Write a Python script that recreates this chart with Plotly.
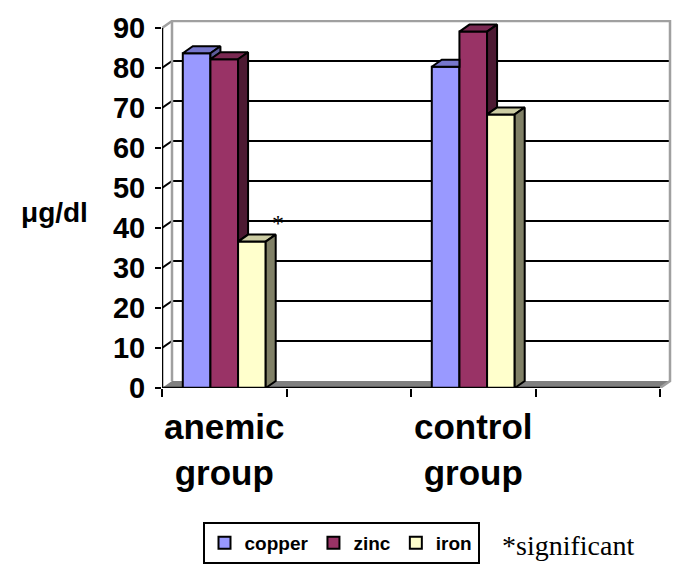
import plotly.graph_objects as go

# data (ug/dl)
groups = ["anemic<br>group", "control<br>group"]
group_slots = [0, 2]               # the axis has 4 slots, two stay empty
slot_edges = [-0.5, 0.5, 1.5, 2.5, 3.5]
metals = ["copper", "zinc", "iron"]
copper = [83.7, 80.3]
zinc = [82.2, 89.1]
iron = [36.6, 68.4]
y_ticks = [0, 10, 20, 30, 40, 50, 60, 70, 80, 90]
star_bar = ("iron", 0)             # anemic iron marked as significant
note = "*significant"

values = {"copper": copper, "zinc": zinc, "iron": iron}
front_col = {"copper": "#9999FF", "zinc": "#993366", "iron": "#FFFFCC"}
top_col = {"copper": "#7777CC", "zinc": "#7A2952", "iron": "#CCCCA3"}
side_col = {"copper": "#5C5C99", "zinc": "#4D1A33", "iron": "#808066"}

# page geometry (pixels) used to fake the excel 3d look
W, H = 685, 579
LEFT, FRONT_RIGHT, BOX_RIGHT = 162, 660, 672
BOTTOM, TOP_90, BOX_TOP = 388, 28, 20
xpu = (FRONT_RIGHT - LEFT) / 4.0
ypu = (BOTTOM - TOP_90) / 90.0
dxu = 10 / xpu      # depth offset, right
dyu = 7 / ypu       # depth offset, up

bar_w = 0.222
offsets = [-1.5 * bar_w, -0.5 * bar_w, 0.5 * bar_w]
FONT = "Liberation Sans, Arial, sans-serif"
SERIF = "Liberation Serif, Times New Roman, serif"

fig = go.Figure()

# front faces
for i, m in enumerate(metals):
    fig.add_trace(go.Bar(
        x=group_slots, y=values[m], name=m, width=bar_w, offset=offsets[i],
        marker=dict(color=front_col[m], line=dict(color="black", width=2)),
        hoverinfo="skip"
    ))


def poly(xs, ys, color):
    fig.add_trace(go.Scatter(
        x=xs + [xs[0]], y=ys + [ys[0]], mode="lines", fill="toself",
        fillcolor=color, line=dict(color="black", width=2),
        showlegend=False, hoverinfo="skip"
    ))


# top and side faces, clipped where the next bar hides them
for g, slot in enumerate(group_slots):
    for i, m in enumerate(metals):
        v = values[m][g]
        xl = slot + offsets[i]
        xr = xl + bar_w
        v_next = values[metals[i + 1]][g] if i + 1 < len(metals) else None
        if v_next is None or v_next <= v:
            poly([xl, xl + dxu, xr + dxu, xr], [v, v + dyu, v + dyu, v], top_col[m])
            base = 0 if v_next is None else v_next
            poly([xr, xr + dxu, xr + dxu, xr], [base, base + dyu, v + dyu, v], side_col[m])
        else:
            a = max(0, min(dxu, (v + dyu - v_next) / dyu * dxu))
            poly([xl, xl + dxu, xr + a, xr, xr],
                 [v, v + dyu, v + dyu, min(v_next, v + dyu), v], top_col[m])

x0, x1 = slot_edges[0], slot_edges[-1]
shapes = []
# floor
shapes.append(dict(type="path", layer="below", fillcolor="#808080", line=dict(width=0),
                   path=f"M{x0},0 L{x1},0 L{x1 + dxu},{dyu} L{x0 + dxu},{dyu} Z"))
# gridlines on side wall and back wall
for t in y_ticks[1:-1]:
    shapes.append(dict(type="path", layer="below", line=dict(color="black", width=2),
                       path=f"M{x0},{t} L{x0 + dxu},{t + dyu} L{x1 + dxu},{t + dyu}"))
# wall outlines
top = y_ticks[-1]
gray = dict(color="#A0A0A0", width=2.5)
shapes.append(dict(type="path", layer="below", line=gray,
                   path=f"M{x0},{top} L{x0 + dxu},{top + dyu} L{x1 + dxu},{top + dyu} "
                        f"L{x1 + dxu},{dyu} L{x1},0"))
shapes.append(dict(type="path", layer="below", line=gray,
                   path=f"M{x0 + dxu},{dyu} L{x0 + dxu},{top + dyu}"))
# front axis lines
shapes.append(dict(type="line", x0=x0, x1=x0, y0=0, y1=top, line=dict(color="black", width=2.5)))
shapes.append(dict(type="line", x0=x0, x1=x1, y0=0, y1=0, line=dict(color="black", width=2.5)))

sm, sg = star_bar
sx = group_slots[sg] + offsets[metals.index(sm)] + bar_w + dxu + 0.02
sy = values[sm][sg] + 4.7

fig.update_layout(
    width=W, height=H,
    margin=dict(l=0, r=0, t=0, b=0, autoexpand=False),
    paper_bgcolor="white", plot_bgcolor="white",
    barmode="overlay",
    shapes=shapes,
    showlegend=True,
    legend=dict(orientation="h", x=341 / W, y=(H - 522) / H, xanchor="center", yanchor="top",
                bordercolor="black", borderwidth=2, bgcolor="white",
                itemwidth=30, tracegroupgap=0,
                font=dict(family=FONT, size=19, color="black", weight="bold")),
    xaxis=dict(domain=[LEFT / W, BOX_RIGHT / W],
               range=[x0, x0 + (BOX_RIGHT - LEFT) / xpu],
               tickmode="array", tickvals=group_slots, ticktext=groups, ticks="",
               minor=dict(tickmode="array", tickvals=slot_edges, ticks="outside",
                          ticklen=8, tickwidth=2, tickcolor="black", showgrid=False),
               showgrid=False, zeroline=False, showline=False, automargin=False,
               ticklabelstandoff=15,
               tickfont=dict(family=FONT, size=35, color="black", weight="bold")),
    yaxis=dict(domain=[(H - BOTTOM) / H, (H - BOX_TOP) / H],
               range=[0, (BOTTOM - BOX_TOP) / ypu],
               tickmode="array", tickvals=y_ticks, ticks="outside",
               ticklen=6, tickwidth=2, tickcolor="black",
               showgrid=False, zeroline=False, showline=False, automargin=False,
               ticklabelstandoff=4,
               tickfont=dict(family=FONT, size=29, color="black", weight="bold")),
    annotations=[
        dict(text="μg/dl", x=54 / W, y=(H - 212) / H, xref="paper", yref="paper",
             xanchor="center", yanchor="middle", showarrow=False,
             font=dict(family=FONT, size=28, color="black", weight="bold")),
        dict(text="*", x=sx, y=sy, xref="x", yref="y", xanchor="center", yanchor="middle",
             showarrow=False, font=dict(family=SERIF, size=24, color="black")),
        dict(text=note, x=568 / W, y=(H - 545) / H, xref="paper", yref="paper",
             xanchor="center", yanchor="middle", showarrow=False,
             font=dict(family=SERIF, size=28, color="black")),
    ],
)

# the page body has a default 8px margin; drop it so the figure sits at 0,0
fig.write_html("out.html", config={"displayModeBar": False},
               post_script="document.body.style.margin='0';")
